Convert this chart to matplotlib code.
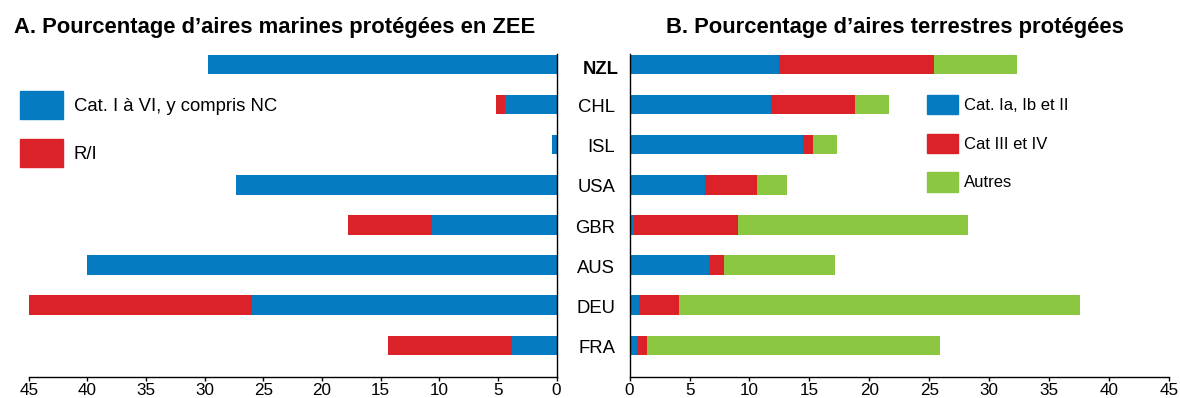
import matplotlib.pyplot as plt
from matplotlib.patches import Patch
from matplotlib.transforms import blended_transform_factory

plt.rcParams['font.family'] = ['Liberation Sans', 'DejaVu Sans']

countries = ["NZL", "CHL", "ISL", "USA", "GBR", "AUS", "DEU", "FRA"]

# A. Marine protected areas in EEZ (%)
marine_cat_i_vi = [29.7, 4.4, 0.4, 27.3, 10.6, 40.0, 26.0, 3.8]
marine_ri = [0.0, 0.8, 0.0, 0.0, 7.15, 0.0, 19.3, 10.6]

# B. Terrestrial protected areas (%)
land_cat_ia_ib_ii = [12.5, 11.8, 14.5, 6.3, 0.4, 6.65, 0.75, 0.6]
land_cat_iii_iv = [12.9, 7.0, 0.8, 4.3, 8.65, 1.25, 3.35, 0.85]
land_other = [6.9, 2.8, 2.0, 2.5, 19.15, 9.2, 33.5, 24.45]

BLUE = "#067BC1"
RED = "#DB2229"
GREEN = "#8CC742"

W, H = 1180, 398
fig = plt.figure(figsize=(W / 100, H / 100), dpi=100)
ax_bottom = 1 - 377.3 / H
ax_height = (377.3 - 54.5) / H
ax1 = fig.add_axes([28.7 / W, ax_bottom, (556.6 - 28.7) / W, ax_height])
ax2 = fig.add_axes([629.6 / W, ax_bottom, (1169 - 629.6) / W, ax_height])

y = list(range(len(countries)))
h = 0.485

# Left panel: stacked bars growing leftwards
ax1.barh(y, marine_cat_i_vi, height=h, color=BLUE)
ax1.barh(y, marine_ri, height=h, left=marine_cat_i_vi, color=RED)
ax1.set_xlim(45, 0)

# Right panel: stacked bars
left2 = [a + b for a, b in zip(land_cat_ia_ib_ii, land_cat_iii_iv)]
ax2.barh(y, land_cat_ia_ib_ii, height=h, color=BLUE)
ax2.barh(y, land_cat_iii_iv, height=h, left=land_cat_ia_ib_ii, color=RED)
ax2.barh(y, land_other, height=h, left=left2, color=GREEN)
ax2.set_xlim(0, 45)

for ax in (ax1, ax2):
    ax.set_ylim(7.795, -0.245)
    ax.set_yticks([])
    ax.set_xticks(range(0, 46, 5))
    ax.tick_params(axis='x', labelsize=12.3, length=3, width=1, direction='out',
                   pad=0.8, colors="#000000")
    ax.spines["top"].set_visible(False)
    ax.spines["bottom"].set_linewidth(1)

ax1.spines["left"].set_visible(False)
ax1.spines["right"].set_linewidth(1)
ax2.spines["right"].set_visible(False)
ax2.spines["left"].set_linewidth(1)

# Country labels between the two panels
trans = blended_transform_factory(fig.transFigure, ax2.transData)
for i, c in enumerate(countries):
    bold = c == "NZL"
    ax2.text((619 if bold else 615) / W, i + (0.08 if bold else 0.03), c,
             transform=trans, ha="right", va="center_baseline", fontsize=13.3,
             fontweight="bold" if bold else "normal")

# Titles
fig.text(275 / W, 1 - 33.5 / H, "A. Pourcentage d\u2019aires marines protégées en ZEE",
         ha="center", va="baseline", fontsize=15.8, fontweight="bold")
fig.text(895 / W, 1 - 33.5 / H, "B. Pourcentage d\u2019aires terrestres protégées",
         ha="center", va="baseline", fontsize=15.8, fontweight="bold")

# Legends
h1 = [Patch(color=BLUE), Patch(color=RED)]
fig.legend(h1, ["Cat. I à VI, y compris NC", "R/I"], loc="upper left",
           bbox_to_anchor=(20 / W, 1 - 90.7 / H), frameon=False, fontsize=13.3,
           handlelength=2.32, handleheight=1.955, labelspacing=1.08, handletextpad=0.6,
           borderaxespad=0, borderpad=0)
h2 = [Patch(color=BLUE), Patch(color=RED), Patch(color=GREEN)]
fig.legend(h2, ["Cat. Ia, Ib et II", "Cat III et IV", "Autres"], loc="upper left",
           bbox_to_anchor=(926.6 / W, 1 - 95 / H), frameon=False, fontsize=12,
           handlelength=1.88, handleheight=1.404, labelspacing=1.16, handletextpad=0.35,
           borderaxespad=0, borderpad=0)

fig.savefig("out.png", dpi=100)
